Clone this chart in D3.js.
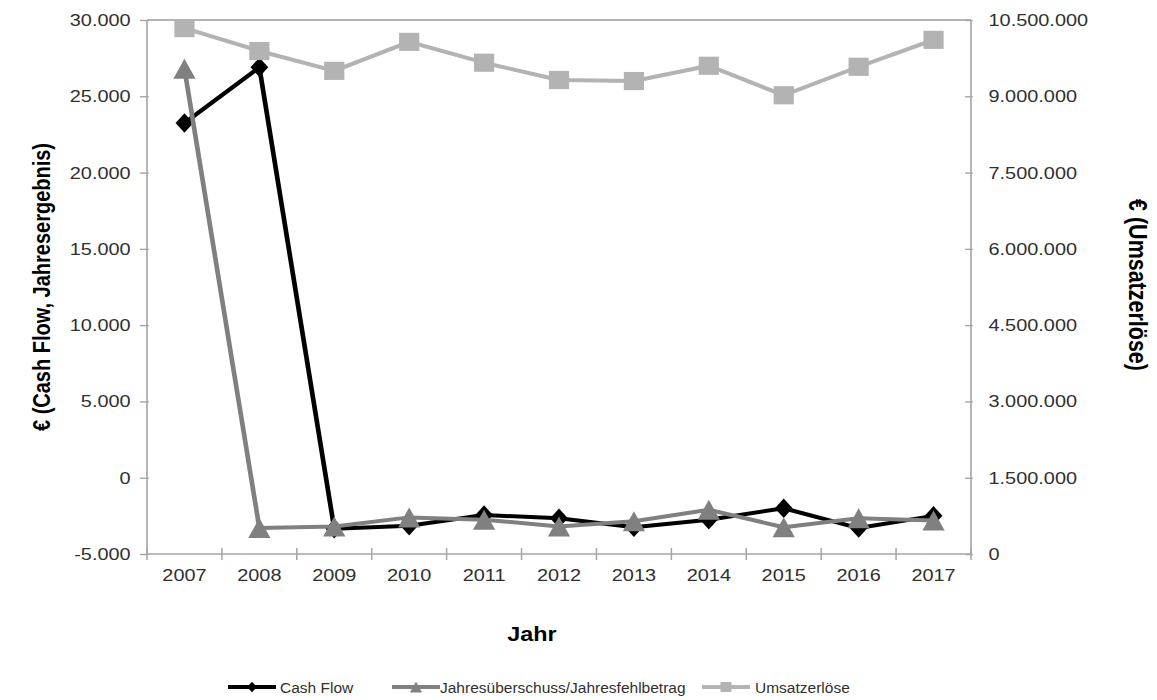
<!DOCTYPE html>
<html>
<head>
<meta charset="utf-8">
<script src="https://cdn.jsdelivr.net/npm/d3@7"></script>
<style>
  html, body { margin: 0; padding: 0; background: #fff; }
  svg { display: block; font-family: "Liberation Sans", Arial, sans-serif; }
</style>
</head>
<body>
<svg id="chart" width="1157" height="700"></svg>
<script>
// Jahre (Kategorien)
const years = ["2007", "2008", "2009", "2010", "2011", "2012", "2013", "2014", "2015", "2016", "2017"];

// Linke Achse: Cash Flow und Jahresergebnis in €
const cashFlow = [23250, 26900, -3350, -3150, -2450, -2650, -3250, -2750, -2000, -3300, -2500];
const jahresergebnis = [26800, -3300, -3200, -2600, -2750, -3200, -2850, -2100, -3250, -2650, -2800];

// Rechte Achse: Umsatzerlöse in €
const umsatz = [10340000, 9890000, 9500000, 10070000, 9660000, 9320000, 9300000, 9600000, 9020000, 9580000, 10110000];

// Achsenbeschriftungen
const leftTicks = [-5000, 0, 5000, 10000, 15000, 20000, 25000, 30000];
const rightTicks = [0, 1500000, 3000000, 4500000, 6000000, 7500000, 9000000, 10500000];

const seriesNames = ["Cash Flow", "Jahresüberschuss/Jahresfehlbetrag", "Umsatzerlöse"];

const de = d3.formatLocale({ decimal: ",", thousands: ".", grouping: [3], currency: ["", " €"], minus: "-" });
const fmt = de.format(",.0f");

// Die Grafik wird in einem schmaleren Koordinatensystem gezeichnet und horizontal gestreckt
const W = 1157, H = 700, SX = 1.17;
const X = v => v / SX;   // Bildschirm-x -> Zeichen-x

const svg = d3.select("#chart")
  .attr("viewBox", `0 0 ${W / SX} ${H}`)
  .attr("preserveAspectRatio", "none");

const plot = { left: X(147), right: X(971), top: 20, bottom: 554 };

const x = d3.scaleBand().domain(years).range([plot.left, plot.right]).paddingInner(0).paddingOuter(0);
const yL = d3.scaleLinear().domain([-5000, 30000]).range([plot.bottom, plot.top]);
const yR = d3.scaleLinear().domain([0, 10500000]).range([plot.bottom, plot.top]);

const axisColor = "#a6a6a6";
const tickText = "#303030";
const fontTick = 17;

// Markerformen (Breite:Höhe wie bei Tabellenkalkulations-Diagrammen)
const diamondMarker = {
  draw(ctx, size) {
    const h = Math.sqrt(size), w = h * 0.78;
    ctx.moveTo(0, -h / 2); ctx.lineTo(w / 2, 0); ctx.lineTo(0, h / 2); ctx.lineTo(-w / 2, 0); ctx.closePath();
  }
};
const triangleMarker = {
  draw(ctx, size) {
    const h = Math.sqrt(size), w = h * 0.95;
    ctx.moveTo(0, -h / 2); ctx.lineTo(w / 2, h / 2); ctx.lineTo(-w / 2, h / 2); ctx.closePath();
  }
};
const squareMarker = {
  draw(ctx, size) {
    const h = Math.sqrt(size), w = h * 0.95;
    ctx.rect(-w / 2, -h / 2, w, h);
  }
};

// Rahmenlinie oben
svg.append("line")
  .attr("x1", plot.left).attr("x2", plot.right)
  .attr("y1", plot.top).attr("y2", plot.top)
  .attr("stroke", "#a09898").attr("stroke-width", 1.5);

// Linke Achse
const gL = svg.append("g").attr("transform", `translate(${plot.left},0)`)
  .call(d3.axisLeft(yL).tickValues(leftTicks).tickFormat(fmt).tickSize(6).tickPadding(8));
gL.selectAll(".tick line").attr("x2", -6).attr("x1", 1.5);
// Rechte Achse
const gR = svg.append("g").attr("transform", `translate(${plot.right},0)`)
  .call(d3.axisRight(yR).tickValues(rightTicks).tickFormat(fmt).tickSize(0).tickPadding(15));
gR.selectAll(".tick").append("line").attr("x1", -5).attr("x2", 1.5);
// X-Achse
const gX = svg.append("g").attr("transform", `translate(0,${plot.bottom})`)
  .call(d3.axisBottom(x).tickSize(0).tickPadding(15));
gX.selectAll(".tick line").remove();
// Teilstriche zwischen den Kategorien
const bounds = years.map(d => x(d)).concat([plot.right]);
svg.append("g").selectAll("line").data(bounds).join("line")
  .attr("x1", d => d).attr("x2", d => d)
  .attr("y1", plot.bottom - 6).attr("y2", plot.bottom + 6)
  .attr("stroke", axisColor).attr("stroke-width", 1.3);

[gL, gR, gX].forEach(g => {
  g.select(".domain").attr("stroke", axisColor).attr("stroke-width", 1.4);
  g.selectAll(".tick line").attr("stroke", axisColor).attr("stroke-width", 1.4);
  g.selectAll(".tick text").attr("fill", tickText).attr("font-size", fontTick)
    .attr("font-family", '"Liberation Sans", Arial, sans-serif');
});
gL.select(".domain").attr("d", `M0,${plot.top}V${plot.bottom}`);
gR.select(".domain").attr("d", `M0,${plot.top}V${plot.bottom}`);
gX.select(".domain").attr("d", `M${plot.left},0H${plot.right}`);
gX.selectAll(".tick text").attr("dy", "0.71em");

// Achsentitel
svg.append("text")
  .attr("transform", `translate(${X(42)},287) rotate(-90)`)
  .attr("text-anchor", "middle").attr("dy", "0.35em")
  .attr("font-weight", "bold").attr("font-size", 20).attr("fill", "#000")
  .text("€ (Cash Flow, Jahresergebnis)");
svg.append("text")
  .attr("transform", `translate(${X(1138)},285) rotate(90)`)
  .attr("text-anchor", "middle").attr("dy", "0.35em")
  .attr("font-weight", "bold").attr("font-size", 21.5).attr("fill", "#000")
  .text("€ (Umsatzerlöse)");
svg.append("text")
  .attr("x", X(532)).attr("y", 641)
  .attr("text-anchor", "middle")
  .attr("font-weight", "bold").attr("font-size", 20).attr("fill", "#000")
  .text("Jahr");

const cx = d => x(d) + x.bandwidth() / 2;

const series = [
  { name: seriesNames[0], values: cashFlow, scale: yL, color: "#000000", symbol: diamondMarker, size: 380 },
  { name: seriesNames[1], values: jahresergebnis, scale: yL, color: "#808080", symbol: triangleMarker, size: 400 },
  { name: seriesNames[2], values: umsatz, scale: yR, color: "#b3b3b3", symbol: squareMarker, size: 330 }
];

series.forEach(s => {
  const pts = years.map((yr, i) => [cx(yr), s.scale(s.values[i])]);
  svg.append("path")
    .attr("d", d3.line()(pts))
    .attr("fill", "none").attr("stroke", s.color).attr("stroke-width", 4)
    .attr("stroke-linejoin", "round");
  svg.append("g").selectAll("path").data(pts).join("path")
    .attr("transform", d => `translate(${d[0]},${d[1]})`)
    .attr("d", d3.symbol().type(s.symbol).size(s.size))
    .attr("fill", s.color);
});

// Legende
const legend = [
  { i: 0, x0: 228, tx: 280 },
  { i: 1, x0: 392, tx: 440 },
  { i: 2, x0: 702, tx: 755 }
];
const ly = 687;
legend.forEach(l => {
  const s = series[l.i];
  const g = svg.append("g");
  g.append("line").attr("x1", X(l.x0)).attr("x2", X(l.x0 + 48)).attr("y1", ly).attr("y2", ly)
    .attr("stroke", s.color).attr("stroke-width", 4);
  g.append("path").attr("transform", `translate(${X(l.x0 + 24)},${ly})`)
    .attr("d", d3.symbol().type(s.symbol).size(s.size * 0.3)).attr("fill", s.color);
  g.append("text")
    .attr("transform", `translate(${X(l.tx)},${ly + 5.5}) scale(${1 / SX},1)`)
    .attr("font-size", 15.5).attr("fill", tickText).text(s.name);
});
</script>
</body>
</html>
